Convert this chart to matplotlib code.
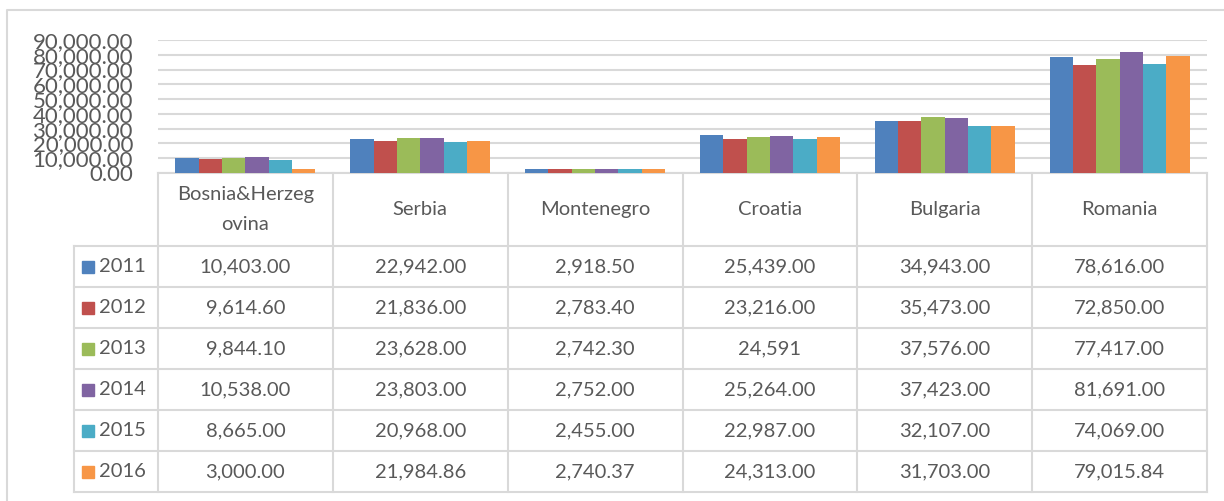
import numpy as np
import matplotlib.pyplot as plt

plt.rcParams['font.family'] = ['Lato', 'DejaVu Sans']

# ---------------- data ----------------
paises = ["Bosnia&Herzeg\novina", "Serbia", "Montenegro", "Croatia", "Bulgaria", "Romania"]
anos = ["2011", "2012", "2013", "2014", "2015", "2016"]
v2011 = [10403.00, 22942.00, 2918.50, 25439.00, 34943.00, 78616.00]
v2012 = [9614.60, 21836.00, 2783.40, 23216.00, 35473.00, 72850.00]
v2013 = [9844.10, 23628.00, 2742.30, 24591.00, 37576.00, 77417.00]
v2014 = [10538.00, 23803.00, 2752.00, 25264.00, 37423.00, 81691.00]
v2015 = [8665.00, 20968.00, 2455.00, 22987.00, 32107.00, 74069.00]
v2016 = [3000.00, 21984.86, 2740.37, 24313.00, 31703.00, 79015.84]
# texto da tabela como aparece no original
txt_tabela = [
    ["10,403.00", "22,942.00", "2,918.50", "25,439.00", "34,943.00", "78,616.00"],
    ["9,614.60", "21,836.00", "2,783.40", "23,216.00", "35,473.00", "72,850.00"],
    ["9,844.10", "23,628.00", "2,742.30", "24,591", "37,576.00", "77,417.00"],
    ["10,538.00", "23,803.00", "2,752.00", "25,264.00", "37,423.00", "81,691.00"],
    ["8,665.00", "20,968.00", "2,455.00", "22,987.00", "32,107.00", "74,069.00"],
    ["3,000.00", "21,984.86", "2,740.37", "24,313.00", "31,703.00", "79,015.84"],
]
series = [v2011, v2012, v2013, v2014, v2015, v2016]
cores = ["#4F81BD", "#C0504D", "#9BBB59", "#8064A2", "#4BACC6", "#F79646"]

W, H = 1224, 501
cinza_txt = "#595959"
cinza_lin = "#d9d9d9"
fs = 14.5

fig = plt.figure(figsize=(W / 100, H / 100), dpi=100)

# eixo de fundo em pixels para a tabela
bg = fig.add_axes([0, 0, 1, 1])
bg.set_xlim(0, W)
bg.set_ylim(H, 0)
bg.axis("off")

# moldura externa
bg.plot([7, 7, W + 5], [H + 5, 10, 10], color=cinza_lin, lw=1.5)

# geometria
x0, x1 = 158, 1207
y_zero, y_top = 173, 40
leg_x = 74
y_hdr = 246
row_h = 41
n = len(paises)
col_w = (x1 - x0) / n

# ---------------- barras ----------------
ax = fig.add_axes([x0 / W, 1 - y_zero / H, (x1 - x0) / W, (y_zero - y_top) / H])
ax.set_zorder(2)
ax.patch.set_alpha(0)
pos = np.arange(n)
larg = 0.8 / len(series)
for i, (s, c) in enumerate(zip(series, cores)):
    ax.bar(pos - 0.4 + larg * (i + 0.5), s, width=larg, color=c, zorder=3)
ax.set_xlim(-0.5, n - 0.5)
ax.set_ylim(0, 90000)
ax.set_yticks(np.arange(0, 90001, 10000))
ax.set_yticklabels([f"{v:,.2f}" for v in np.arange(0, 90001, 10000)],
                   fontsize=fs + 1.5, color=cinza_txt)
ax.tick_params(axis="y", length=0, pad=18)
ax.set_xticks([])
ax.grid(axis="y", color=cinza_lin, lw=1.5, zorder=0)
for sp in ax.spines.values():
    sp.set_visible(False)

# ---------------- tabela ----------------
y_bot = y_hdr + row_h * len(anos)
# linhas horizontais
bg.plot([x0, x1], [y_zero, y_zero], color=cinza_lin, lw=1.5)
for r in range(len(anos) + 1):
    y = y_hdr + r * row_h
    bg.plot([leg_x, x1], [y, y], color=cinza_lin, lw=1.5)
# linhas verticais
for k in range(n + 1):
    x = x0 + k * col_w
    bg.plot([x, x], [y_zero, y_bot], color=cinza_lin, lw=1.5)
bg.plot([leg_x, leg_x], [y_hdr, y_bot], color=cinza_lin, lw=1.5)

# cabeçalho
for k, p in enumerate(paises):
    bg.text(x0 + (k + 0.5) * col_w, (y_zero + y_hdr) / 2, p, ha="center", va="center",
            fontsize=fs, color=cinza_txt, linespacing=1.9)

# linhas de dados
for r, ano in enumerate(anos):
    yc = y_hdr + (r + 0.5) * row_h
    bg.add_patch(plt.Rectangle((82, yc - 6), 12, 12, color=cores[r]))
    bg.text(99, yc, ano, ha="left", va="center", fontsize=fs, color=cinza_txt)
    for k in range(n):
        bg.text(x0 + (k + 0.5) * col_w, yc, txt_tabela[r][k], ha="center", va="center",
                fontsize=fs, color=cinza_txt)

fig.savefig("out.png", dpi=100)
